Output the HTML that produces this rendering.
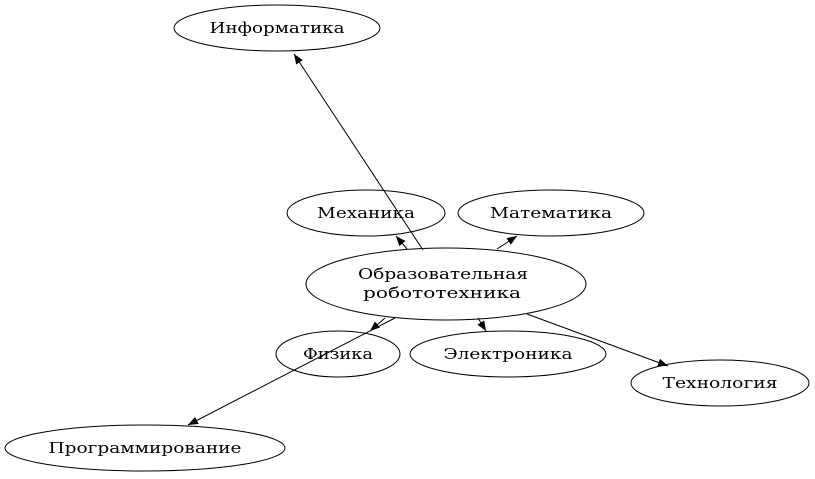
<!DOCTYPE html>
<html><head><meta charset="utf-8"><style>
html,body{margin:0;padding:0;background:#fff;}
svg{display:block;}
text{font-family:"DejaVu Serif","Liberation Serif",serif;font-size:15px;fill:#000;}
</style></head><body>
<svg width="815" height="479" viewBox="0 0 815 479" xmlns="http://www.w3.org/2000/svg">
<defs>
<marker id="a" markerWidth="10" markerHeight="8" refX="10" refY="4" orient="auto" markerUnits="userSpaceOnUse">
<path d="M0,0 L10,4 L0,8 Z" fill="#000"/>
</marker>
</defs>
<g fill="none" stroke="#000" stroke-width="1">
<ellipse cx="277" cy="28" rx="103" ry="23"/>
<ellipse cx="366" cy="213" rx="79" ry="23"/>
<ellipse cx="551" cy="213" rx="93" ry="23"/>
<ellipse cx="446" cy="284" rx="140" ry="36"/>
<ellipse cx="338" cy="354" rx="62" ry="23"/>
<ellipse cx="508" cy="354" rx="98" ry="23"/>
<ellipse cx="720" cy="383" rx="89" ry="23"/>
<ellipse cx="145" cy="448" rx="140" ry="23"/>
<line x1="423" y1="250" x2="294" y2="54" marker-end="url(#a)"/>
<line x1="407" y1="249" x2="396" y2="236" marker-end="url(#a)"/>
<line x1="497" y1="249" x2="517" y2="236" marker-end="url(#a)"/>
<line x1="385" y1="318" x2="370" y2="331" marker-end="url(#a)"/>
<line x1="395" y1="318" x2="188" y2="425" marker-end="url(#a)"/>
<line x1="478" y1="318" x2="486" y2="331" marker-end="url(#a)"/>
<line x1="527" y1="314" x2="668" y2="366" marker-end="url(#a)"/>
</g>
<g text-anchor="middle">
<text x="277" y="33" textLength="135" lengthAdjust="spacingAndGlyphs">Информатика</text>
<text x="366" y="218" textLength="98" lengthAdjust="spacingAndGlyphs">Механика</text>
<text x="551" y="218" textLength="122" lengthAdjust="spacingAndGlyphs">Математика</text>
<text x="443" y="279" textLength="170" lengthAdjust="spacingAndGlyphs">Образовательная</text>
<text x="442" y="298" textLength="158" lengthAdjust="spacingAndGlyphs">робототехника</text>
<text x="338" y="359" textLength="70" lengthAdjust="spacingAndGlyphs">Физика</text>
<text x="508" y="359" textLength="129" lengthAdjust="spacingAndGlyphs">Электроника</text>
<text x="720" y="388" textLength="115" lengthAdjust="spacingAndGlyphs">Технология</text>
<text x="145" y="453" textLength="193" lengthAdjust="spacingAndGlyphs">Программирование</text>
</g>
</svg>
</body></html>
